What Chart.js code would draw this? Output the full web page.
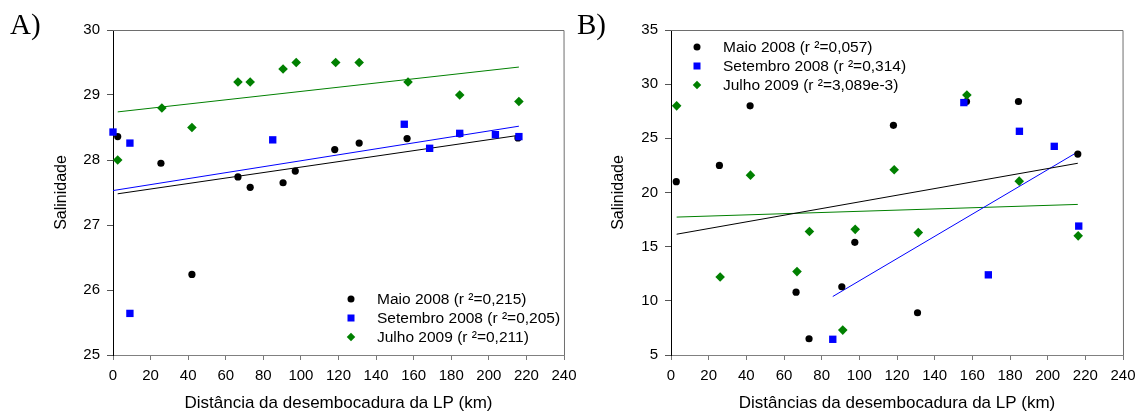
<!DOCTYPE html>
<html>

<head>
    <meta charset="utf-8" />
    <title>Salinidade x distância da desembocadura da LP</title>
    <style>
        body {
            margin: 0;
            background: #fff;
            font-family: "Liberation Sans", Arial, sans-serif;
        }

        .wrap {
            position: relative;
            width: 1138px;
            height: 414px;
            overflow: hidden;
        }

        .wrap canvas {
            position: absolute;
            top: 0;
        }

        #chartA { left: 0; }
        #chartB { left: 569px; }

        .panel {
            position: absolute;
            top: 10px;
            font-family: "Liberation Serif", "Times New Roman", serif;
            font-size: 29px;
            line-height: 29px;
            color: #000;
        }

        .legend {
            position: absolute;
            font-size: 15.5px;
            line-height: 19px;
            color: #000;
        }

        .legend .row {
            position: relative;
            height: 19px;
            padding-left: 26px;
            white-space: nowrap;
        }

        .legend .mk {
            position: absolute;
            left: 0;
            top: 50%;
            transform: translate(-50%, -50%);
        }

        .mk.circle { width: 7px; height: 7px; border-radius: 50%; background: #000; }
        .mk.square { width: 7px; height: 7px; background: #0000ff; }
        .mk.diamond { width: 6px; height: 6px; background: #008000; transform: translate(-50%, -50%) rotate(45deg); }
    </style>
    <script src="https://cdn.jsdelivr.net/npm/chart.js"></script>
</head>

<body>
    <div class="wrap">
        <canvas id="chartA" width="600" height="414"></canvas>
        <canvas id="chartB" width="569" height="414"></canvas>
        <div class="panel" style="left:10px">A)</div>
        <div class="panel" style="left:577px">B)</div>
        <div class="legend" id="legendA" style="left:351px; top:289px"></div>
        <div class="legend" id="legendB" style="left:697px; top:37px"></div>
    </div>

    <script>
        // ---- Panel A: salinidade (25-30) ----
        const distA_maio = [2.5, 25.5, 42, 66.5, 73, 90.5, 97, 118, 131, 156.5, 184.5, 215.5];
        const salA_maio = [28.36, 27.95, 26.24, 27.74, 27.58, 27.65, 27.83, 28.16, 28.26, 28.33, 28.40, 28.34];
        const distA_set = [0, 9, 9, 85, 155, 168.5, 184.5, 203.5, 216];
        const salA_set = [28.43, 28.26, 25.64, 28.31, 28.55, 28.18, 28.41, 28.39, 28.36];
        const distA_jul = [2.5, 26, 42, 66.5, 73, 90.5, 97.5, 118.5, 131, 157, 184.5, 216];
        const salA_jul = [28.0, 28.8, 28.5, 29.2, 29.2, 29.4, 29.5, 29.5, 29.5, 29.2, 29.0, 28.9];
        // regression line end points (x, y)
        const fitA_maio = [[2.5, 27.48], [216, 28.38]];
        const fitA_set = [[0, 27.53], [216, 28.52]];
        const fitA_jul = [[2.5, 28.74], [216, 29.43]];
        const legendA = ['Maio 2008 (r ²=0,215)', 'Setembro 2008 (r ²=0,205)', 'Julho 2009 (r ²=0,211)'];

        // ---- Panel B: salinidade (5-35) ----
        const distB_maio = [2.8, 25.7, 42, 66.4, 73.3, 90.7, 97.6, 118.1, 130.9, 156.9, 184.5, 216];
        const salB_maio = [21.0, 22.5, 28.0, 10.8, 6.5, 11.3, 15.4, 26.2, 8.9, 28.4, 28.4, 23.55];
        const distB_set = [85.9, 155.5, 168.5, 185, 203.5, 216.5];
        const salB_set = [6.45, 28.3, 12.4, 25.65, 24.26, 16.9];
        const distB_jul = [3, 26.1, 42.2, 66.9, 73.5, 91.2, 97.8, 118.5, 131.3, 157.1, 184.9, 216.2];
        const salB_jul = [28.0, 12.2, 21.6, 12.7, 16.4, 7.3, 16.6, 22.1, 16.3, 29.0, 21.05, 16.0];
        const fitB_maio = [[3, 16.15], [216, 22.7]];
        const fitB_set = [[85.9, 10.4], [216, 23.75]];
        const fitB_jul = [[3, 17.73], [216, 18.9]];
        const legendB = ['Maio 2008 (r ²=0,057)', 'Setembro 2008 (r ²=0,314)', 'Julho 2009 (r ²=3,089e-3)'];

        const colors = ['#000000', '#0000ff', '#008000'];
        const shapes = ['circle', 'rect', 'rectRot'];
        const radii = [3.6, 5.2, 4.8];
        const mkClass = ['circle', 'square', 'diamond'];

        Chart.defaults.font.family = '"Liberation Sans", Arial, sans-serif';
        Chart.defaults.color = '#000';

        const toXY = (xs, ys) => xs.map((x, i) => ({ x, y: ys[i] }));

        // gray frame on top and right side of the plot
        const framePlugin = {
            id: 'frame',
            afterDraw(chart) {
                const { ctx, chartArea: a } = chart;
                ctx.save();
                ctx.strokeStyle = '#6e6e6e';
                ctx.lineWidth = 1;
                ctx.beginPath();
                ctx.moveTo(a.left, Math.round(a.top) + 0.5);
                ctx.lineTo(a.right, Math.round(a.top) + 0.5);
                ctx.lineTo(Math.round(a.right) + 0.5, a.bottom);
                ctx.stroke();
                ctx.restore();
            }
        };

        function makeDatasets(series, fits) {
            const ds = [];
            series.forEach((s, i) => {
                ds.push({
                    data: toXY(s[0], s[1]),
                    pointStyle: shapes[i],
                    pointRadius: radii[i],
                    pointHoverRadius: radii[i],
                    backgroundColor: colors[i],
                    borderColor: colors[i],
                    borderWidth: 0,
                    order: 3 - i,
                    clip: false
                });
            });
            fits.forEach((f, i) => {
                ds.push({
                    data: f.map(p => ({ x: p[0], y: p[1] })),
                    showLine: true,
                    pointRadius: 0,
                    borderColor: colors[i],
                    borderWidth: 1,
                    order: 10 + i
                });
            });
            return ds;
        }

        function makeChart(id, datasets, o) {
            new Chart(document.getElementById(id), {
                type: 'scatter',
                data: { datasets },
                plugins: [framePlugin],
                options: {
                    responsive: false,
                    animation: false,
                    devicePixelRatio: 1,
                    layout: { padding: { left: 0, right: o.rightPad, top: 30, bottom: 0 } },
                    plugins: { legend: { display: false }, tooltip: { enabled: false } },
                    scales: {
                        x: {
                            min: 0, max: 240,
                            afterFit: s => { s.height = 59; s.paddingLeft = 0; s.paddingRight = 0; },
                            ticks: { stepSize: 20, padding: 7, font: { size: 15 }, maxRotation: 0 },
                            grid: { drawOnChartArea: false, tickLength: 5, color: '#777' },
                            border: { color: '#808080' },
                            title: { display: true, text: o.xTitle, font: { size: 17 }, padding: { top: 0, bottom: 0 } }
                        },
                        y: {
                            min: o.yMin, max: o.yMax,
                            afterFit: s => { s.width = o.yWidth; },
                            ticks: { stepSize: o.yStep, padding: 7, font: { size: 15 } },
                            grid: { drawOnChartArea: false, tickLength: 6, color: '#555' },
                            border: { color: '#000' },
                            title: { display: true, text: 'Salinidade', font: { size: 16 }, padding: { top: o.yTitlePad, bottom: 0 } }
                        }
                    }
                }
            });
        }

        makeChart('chartA',
            makeDatasets([[distA_maio, salA_maio], [distA_set, salA_set], [distA_jul, salA_jul]], [fitA_maio, fitA_set, fitA_jul]),
            { yMin: 25, yMax: 30, yStep: 1, yWidth: 113, rightPad: 36, yTitlePad: 52, xTitle: 'Distância da desembocadura da LP (km)' });

        makeChart('chartB',
            makeDatasets([[distB_maio, salB_maio], [distB_set, salB_set], [distB_jul, salB_jul]], [fitB_maio, fitB_set, fitB_jul]),
            { yMin: 5, yMax: 35, yStep: 5, yWidth: 102, rightPad: 15, yTitlePad: 40, xTitle: 'Distâncias da desembocadura da LP (km)' });

        function buildLegend(el, labels) {
            labels.forEach((t, i) => {
                const row = document.createElement('div');
                row.className = 'row';
                const mk = document.createElement('span');
                mk.className = 'mk ' + mkClass[i];
                row.appendChild(mk);
                row.appendChild(document.createTextNode(t));
                document.getElementById(el).appendChild(row);
            });
        }
        buildLegend('legendA', legendA);
        buildLegend('legendB', legendB);
    </script>
</body>

</html>
